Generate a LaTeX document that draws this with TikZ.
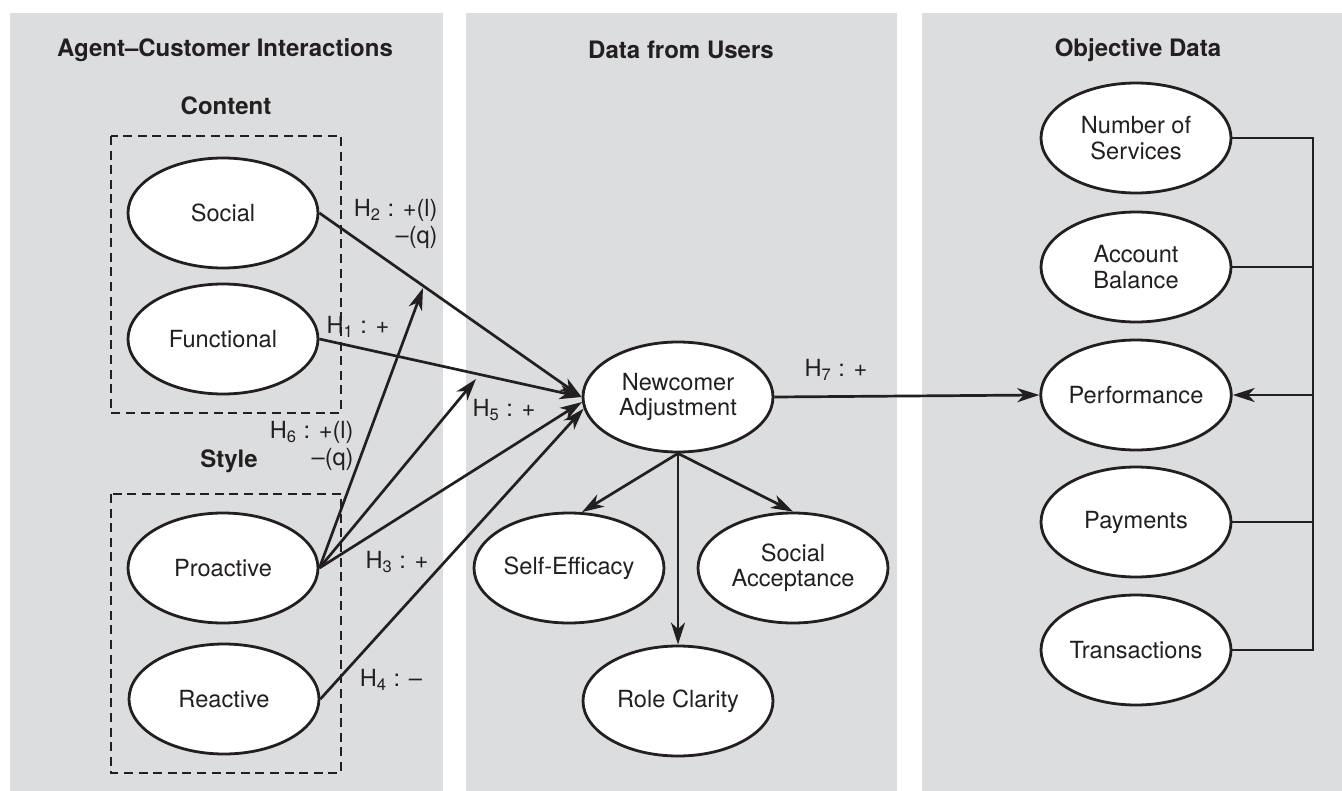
\documentclass[tikz,border=0pt]{standalone}
\usepackage{fontspec}
\setmainfont{TeX Gyre Heros}
\usetikzlibrary{arrows.meta,shapes.geometric}
\definecolor{panelgray}{HTML}{DCDDDF}
\definecolor{ink}{HTML}{231F20}
\tikzset{
  panel/.style={fill=panelgray, draw=none},
  oval/.style={ellipse, draw=ink, line width=1.4pt, fill=white, minimum width=95pt, minimum height=55pt, inner sep=0pt, align=center, text=ink, font=\fontsize{11.8}{12.6}\selectfont},
  title/.style={font=\bfseries\fontsize{12}{14}\selectfont, text=ink},
  hlabel/.style={font=\fontsize{11.8}{13.2}\selectfont, text=ink, inner sep=0pt},
  groupbox/.style={draw=ink, line width=1.4pt, dash pattern=on 4.5pt off 2.8pt},
  conn/.style={draw=ink, line width=1.35pt},
  arr/.style={conn, -{Stealth[length=11pt,width=7pt,inset=3.2pt]}}
}
\begin{document}
\begin{tikzpicture}[x=0.5pt,y=-0.5pt]
\useasboundingbox (0,0) rectangle (1342,791);
% panels
\fill[panelgray] (10,13) rectangle (443,791);
\fill[panelgray] (466,13) rectangle (897,791);
\fill[panelgray] (922,13) rectangle (1342,791);
% titles
\node[title] (t1) at (225,50) {Agent–Customer Interactions};
\node[title] (t2) at (681,50) {Data from Users};
\node[title] (t3) at (1138,50) {Objective Data};
\node[title] (tc) at (226,106) {Content};
\node[title] (ts) at (229,461) {Style};
% group boxes
\draw[groupbox] (111,136) rectangle (341,413);
\draw[groupbox] (111,494) rectangle (341,773);
% left nodes
\node[oval] (soc) at (223,213) {Social};
\node[oval] (fun) at (223,339) {Functional};
\node[oval] (pro) at (223,568) {Proactive};
\node[oval] (rea) at (224,699) {Reactive};
% middle nodes
\node[oval] (na) at (678,397) {Newcomer\\Adjustment};
\node[oval] (se) at (569,568) {Self-Efficacy};
\node[oval] (sa) at (793,568) {Social\\Acceptance};
\node[oval] (rc) at (678,701) {Role Clarity};
% right nodes
\node[oval] (ns) at (1136,138) {Number of\\Services};
\node[oval] (ab) at (1136,267) {Account\\Balance};
\node[oval] (pf) at (1136,395) {Performance};
\node[oval] (pay) at (1136,522) {Payments};
\node[oval] (tr) at (1136,650) {Transactions};
% moderation targets
\coordinate (m6) at (423,288);
\coordinate (m5) at (476,379);
% arrows into Newcomer Adjustment
\draw[arr] (soc.east) -- (na.west);
\draw[arr] (fun.east) -- (na.west);
\draw[arr] (pro.east) -- (na.183);
\draw[arr] (rea.east) -- (na.187);
\draw[arr] (pro.east) -- (m6);
\draw[arr] (pro.east) -- (m5);
% outcome arrows
\draw[arr] (na.south) -- (se.77);
\draw[arr] (na.south) -- (rc.north);
\draw[arr] (na.south) -- (sa.north);
\draw[arr] (na.east) -- (pf.west);
% right bus
\coordinate (bt) at (1313,138);
\coordinate (bb) at (1313,650);
\coordinate (bp) at (1313,395);
\draw[conn] (ns.east) -- (bt) -- (bb) -- (tr.east);
\draw[conn] (ab.east) -- (ab.east -| bt);
\draw[conn] (pay.east) -- (pay.east -| bt);
\draw[arr] (bp) -- (pf.east);
% labels
\node[hlabel, align=right, anchor=east] (h2) at (438,224) {H\textsubscript{2} : +(l)\\–(q)};
\node[hlabel] (h1) at (358,327) {H\textsubscript{1} : +};
\node[hlabel] (h5) at (504,410) {H\textsubscript{5} : +};
\node[hlabel, align=right, anchor=east] (h6) at (354,446) {H\textsubscript{6} : +(l)\\–(q)};
\node[hlabel] (h3) at (397,562) {H\textsubscript{3} : +};
\node[hlabel] (h4) at (391,680) {H\textsubscript{4} : –};
\node[hlabel] (h7) at (836,370) {H\textsubscript{7} : +};
\end{tikzpicture}
\end{document}
